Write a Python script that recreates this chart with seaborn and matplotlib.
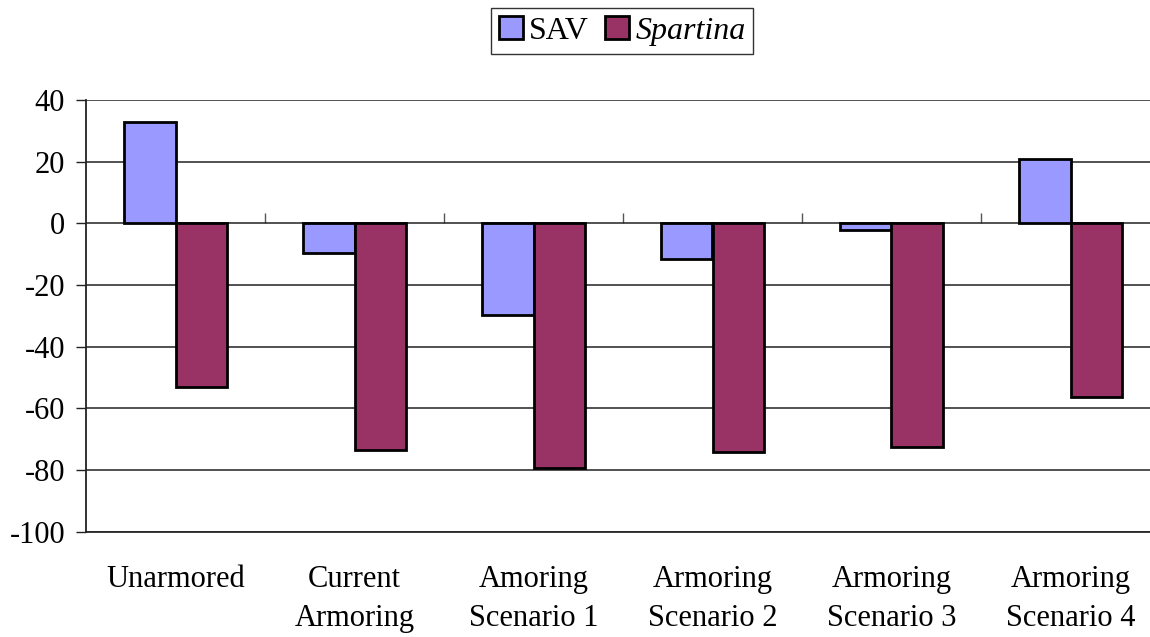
import matplotlib
matplotlib.use("Agg")
import matplotlib.pyplot as plt
import seaborn as sns
import pandas as pd

categories = ["Unarmored", "Current\nArmoring", "Amoring\nScenario 1",
              "Armoring\nScenario 2", "Armoring\nScenario 3", "Armoring\nScenario 4"]
series = ["SAV", "Spartina"]
sav = [32.9, -9.6, -29.6, -11.5, -2.2, 21.0]
spartina = [-53.2, -73.5, -79.5, -74.2, -72.4, -56.2]
yticks = [40, 20, 0, -20, -40, -60, -80, -100]
colors = ["#9999FF", "#993366"]

sns.set_theme(style="white")
plt.rcParams["font.family"] = ["Liberation Serif", "DejaVu Serif"]
plt.rcParams["text.color"] = "black"
plt.rcParams["xtick.color"] = "black"
plt.rcParams["ytick.color"] = "black"

df = pd.DataFrame({
    "category": categories * 2,
    "series": [series[0]] * len(categories) + [series[1]] * len(categories),
    "value": sav + spartina,
})

fig = plt.figure(figsize=(11.5, 6.37), dpi=100)
ax = fig.add_axes([86 / 1150, 0.1653, 1074 / 1150, 0.6777])

sns.barplot(data=df, x="category", y="value", hue="series", palette=colors,
            order=categories, hue_order=series, width=0.58, gap=0,
            edgecolor="black", linewidth=2, saturation=1, ax=ax, legend=True)

ax.set_ylim(-100, 40)
ax.set_xlim(-0.5, len(categories) - 0.5)
ax.set_yticks(yticks)
ax.set_yticklabels([str(v) for v in yticks], fontsize=22)
ax.yaxis.grid(True, color="#222222", linewidth=1.1)
ax.set_axisbelow(True)
ax.set_xlabel("")
ax.set_ylabel("")
ax.tick_params(axis="y", which="major", left=True, length=7, width=1, color="#222222", pad=8)
ax.set_xticks(range(len(categories)))
ax.set_xticklabels(categories, fontsize=22, linespacing=1.45)
ax.tick_params(axis="x", length=0, pad=24)
for side in ["top", "right"]:
    ax.spines[side].set_visible(False)
ax.spines["bottom"].set_color("#222222")
ax.spines["left"].set_color("#222222")
ax.spines["left"].set_linewidth(1.3)

# zero line axis with category-boundary ticks
sec = ax.secondary_xaxis(100 / 140)
sec.set_xticks([i + 0.5 for i in range(len(categories) - 1)])
sec.set_xticklabels([])
sec.tick_params(axis="x", direction="out", length=7, width=1, color="#555555")
sec.spines["bottom"].set_color("black")
sec.spines["bottom"].set_linewidth(1.3)
sec.spines["top"].set_visible(False)

ax.get_legend().remove()
handles, labels = ax.get_legend_handles_labels()
leg = fig.legend(handles[:2], series, loc="upper center", bbox_to_anchor=(622 / 1150, 1 - 8 / 637),
                 ncol=2, fontsize=23, frameon=True, fancybox=False, edgecolor="black",
                 handlelength=0.75, handleheight=0.75, handletextpad=0.2,
                 columnspacing=0.5, borderpad=0.25, borderaxespad=0)
leg.get_frame().set_linewidth(1.0)
leg.get_texts()[1].set_style("italic")

fig.savefig("out.png", dpi=100)
